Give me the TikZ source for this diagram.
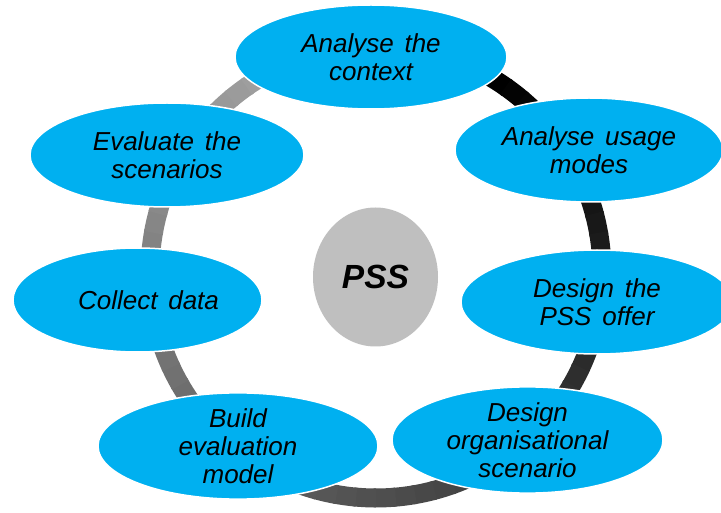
\documentclass[tikz,border=0pt]{standalone}
\usepackage{fontspec}
\setmainfont{Liberation Sans}[WordSpace={1.5,0,0}]
\usetikzlibrary{shapes.geometric}
\definecolor{stepblue}{HTML}{00B0F0}
\definecolor{pssgrey}{HTML}{BFBFBF}
\begin{document}
\begin{tikzpicture}[x=1pt,y=-1pt,
  stepbox/.style={ellipse, fill=stepblue, draw=white, line width=1.5pt, inner sep=0pt,
    minimum width=272pt, minimum height=104pt, align=center,
    font=\fontsize{26}{28}\selectfont\itshape},
  hub/.style={ellipse, fill=pssgrey, inner sep=0pt, minimum width=125pt, minimum height=139pt,
    font=\fontsize{33.5}{36}\selectfont\bfseries\itshape}]
\useasboundingbox (0,0) rectangle (721,513);
\fill[white] (0,0) rectangle (721,513);
% ring
\coordinate (rc) at (376,272);
\foreach \a in {60,55,...,-235}{
  \pgfmathsetmacro{\t}{(60-\a)/295}
  \pgfmathsetmacro{\k}{100*(1-0.62*\t)}
  \draw[line width=19pt, draw=black!\k!white] (rc) ++(\a:226pt) arc[start angle=\a, end angle=\a-5.6, radius=226pt];
}
% hub
\node[hub] (pss) at (375.5,277) {PSS};
% steps
\node[stepbox] (s1) at (371,57) {Analyse the\\context};
\node[stepbox, minimum width=268pt] (s2) at (589,150) {Analyse usage\\modes};
\node[stepbox] (s3) at (597,302) {Design the\\PSS offer};
\node[stepbox, minimum width=271pt] (s4) at (527.5,440) {Design\\organisational\\scenario};
\node[stepbox, minimum width=280pt] (s5) at (238,446) {Build\\evaluation\\model};
\node[stepbox, minimum width=249pt] (s6) at (137.5,300) {\hspace*{22pt}Collect data};
\node[stepbox, minimum width=274pt] (s7) at (167,155) {Evaluate the\\scenarios};
\end{tikzpicture}
\end{document}
